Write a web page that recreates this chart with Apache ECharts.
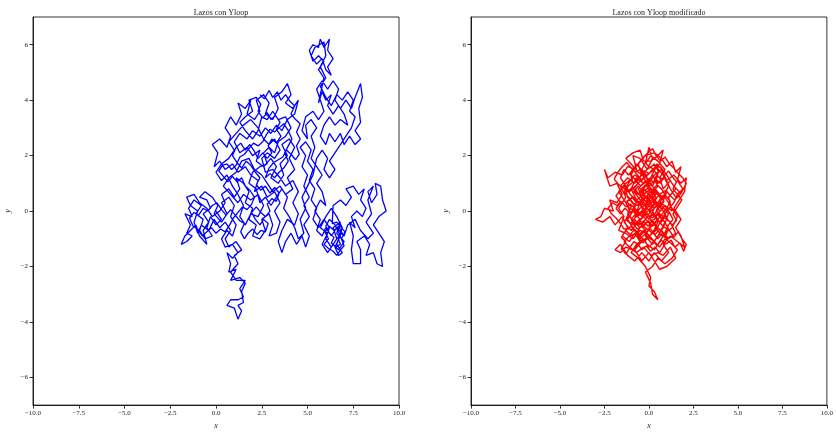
<!DOCTYPE html>
<html>
<head>
<meta charset="utf-8">
<script src="https://cdn.jsdelivr.net/npm/echarts@6/dist/echarts.min.js"></script>
<style>html,body{margin:0;padding:0;background:#fff;}#c{width:836px;height:435px;}</style>
</head>
<body>
<div id="c"></div>
<script>
const titles = ['Lazos con Yloop', 'Lazos con Yloop modificado'];
const xTicks = [-10, -7.5, -5, -2.5, 0, 2.5, 5, 7.5, 10];
const yTicks = [-6, -4, -2, 0, 2, 4, 6];

const blueWalk = [
[0,0],[0.3,-0.3],[0.0,-0.5],[-0.3,-0.2],[-0.5,-0.6],[-0.2,-0.9],[-0.6,-1.0],[-0.9,-0.7],[-0.7,-0.3],[-1.1,-0.1],[-0.8,0.2],[-1.2,0.4],[-1.5,0.1],[-1.3,-0.2],[-1.7,-0.1],[-1.4,-0.5],[-1.6,-0.8],[-1.3,-0.9],[-1.6,-1.1],[-1.9,-1.2],[-1.7,-0.9],[-1.4,-0.7],[-1.1,-0.5],[-0.9,-0.9],[-0.5,-1.2],[-0.7,-0.7],[-0.4,-0.4],[-0.7,-0.1],[-0.3,0.1],[-0.5,0.4],[-0.9,0.5],[-0.6,0.7],[-0.2,0.5],[0.1,0.2],[-0.1,-0.1],[0.3,-0.4],[0.6,-0.1],[0.3,0.3],[0.7,0.5],[1.0,0.2],[0.8,-0.2],[1.1,-0.5],[0.9,-0.9],[0.6,-0.7],[0.3,-1.0],[0.5,-1.3],[0.9,-1.2],[1.2,-1.5],[0.9,-1.7],[0.6,-1.5],[0.8,-1.9],
[0.7,-2.2],[1.1,-2.1],[0.8,-2.5],[1.3,-2.4],[1.6,-2.6],[1.4,-2.9],[1.5,-3.3],[1.2,-3.4],[1.4,-3.6],[1.2,-3.9],[1.0,-3.5],[0.6,-3.4],[0.8,-3.2],[1.2,-3.2],[1.5,-3.1],[1.3,-2.8],[1.6,-2.5],[1.1,-2.5],[0.8,-2.2],[1.2,-1.9],[1.0,-1.6],[1.4,-1.4],[1.1,-1.1],[0.7,-1.3],[0.5,-1.0],[0.8,-0.7],[0.5,-0.4],
[0.2,-0.6],[-0.1,-0.3],[-0.4,-0.7],[-0.8,-0.5],[-1.0,-0.8],[-1.2,-0.4],[-1.0,0.0],[-1.4,0.2],[-1.6,0.5],[-1.2,0.6],[-0.9,0.3],[-0.5,0.1],[-0.2,-0.2],[0.2,0.0],[0.5,0.3],[0.3,0.6],[0.7,0.8],[1.0,0.5],[1.3,0.8],[1.1,1.2],
[1.5,1.0],[1.8,0.7],[1.6,0.3],[2.0,0.1],[1.8,-0.3],[2.2,-0.5],[2.0,-0.9],[2.4,-1.0],[2.7,-0.7],[2.5,-0.3],[2.9,-0.1],[3.1,-0.5],[2.9,-0.9],[3.3,-0.8],[3.5,-0.4],[3.2,0.0],[3.5,0.3],[3.2,0.7],[2.8,0.5],[2.5,0.9],[2.1,0.7],[2.3,1.1],[1.9,1.3],[1.6,1.6],[1.2,1.4],[0.9,1.7],[0.5,1.5],[0.2,1.8],[-0.1,1.6],[0.1,2.1],[-0.2,2.4],[0.2,2.6],[0.6,2.3],[0.8,2.7],[0.5,3.0],[0.8,3.4],[1.1,3.1],[1.4,3.5],[1.2,3.9],[1.6,3.7],[1.9,4.0],[1.7,3.5],[2.1,3.3],[2.4,3.6],[2.2,4.0],[2.6,4.2],[2.9,3.9],[2.7,3.5],[3.1,3.3],[3.4,3.7],[3.2,4.1],[3.6,4.3],[3.9,4.6],[4.1,4.2],[3.8,3.9],[4.2,3.7],[4.5,4.0],[4.3,3.5],[3.9,3.3],[3.6,2.9],[3.3,3.1],[3.0,2.8],[2.7,3.0],[2.4,2.7],[2.0,2.9],[1.7,2.6],[1.3,2.8],[1.0,2.5],[1.3,2.1],[1.7,2.3],[2.0,2.0],[2.4,2.2],[2.2,1.8],[2.6,1.6],[3.0,1.9],[3.3,1.6],[3.0,1.2],[3.4,1.0],[3.7,1.3],[3.5,1.7],[3.9,2.0],[3.6,2.4],[4.0,2.6],[4.3,2.3],[4.0,1.9],[4.3,1.5],[3.9,1.2],[4.2,0.8],[3.8,0.6],[3.5,0.9],[3.1,0.7],[2.8,1.0],[2.5,1.3],[2.1,1.5],[1.8,1.9],[1.4,1.8],[1.1,1.4],[0.7,1.2],[0.4,0.9],[0.8,0.6],[1.2,0.3],[1.5,0.6],[1.9,0.4],[2.3,0.6],[2.6,0.2],[2.3,-0.2],[1.9,-0.1],[1.6,-0.5],[1.3,-0.2],[1.5,0.2],[1.2,0.6],[0.9,0.9],[0.6,1.3],[0.3,1.1],[0.0,1.4],[0.3,1.7],[0.7,1.9],[1.0,2.2],[0.7,2.5],[1.1,2.8],[1.5,3.1],[1.9,3.3],[2.3,3.0],[2.6,2.6],[2.9,2.4],[3.2,2.6],[3.5,2.2],[3.2,1.9],[2.8,2.1],[2.5,1.9],[2.7,1.4],[3.1,1.5],
[3.5,1.2],[3.8,0.9],[4.2,1.1],[4.5,0.7],[4.2,0.3],[4.5,-0.1],[4.3,-0.5],[3.9,-0.3],[3.6,-0.7],[3.4,-1.1],[3.6,-1.5],[3.8,-1.1],[4.1,-0.8],[4.4,-1.2],[4.7,-0.9],[4.9,-1.3],[5.1,-0.9],[4.8,-0.5],[5.1,-0.2],[4.8,0.2],[5.1,0.5],[4.8,0.9],[5.0,1.3],[4.7,1.6],[4.9,2.0],[4.6,2.3],[4.9,2.5],[5.2,2.2],[5.0,1.8],[5.3,1.5],[5.1,1.1],[5.4,0.8],[5.2,0.4],[5.5,0.1],[5.3,-0.3],[5.6,-0.6],
[5.9,-0.3],[6.2,-0.6],[6.0,-1.0],[6.3,-1.3],[6.6,-1.0],[6.4,-0.6],[6.8,-0.4],[6.6,-0.8],[7.0,-1.1],[6.7,-1.4],[6.4,-1.2],[6.1,-1.5],[5.8,-1.2],[6.1,-0.8],[5.7,-0.6],[6.0,-0.2],[6.3,0.1],[6.6,-0.2],[6.9,-0.6],[6.6,-1.2],[6.9,-1.5],[6.7,-1.6],[6.5,-1.3],[6.8,-0.9],[6.5,-0.5],[6.2,-0.3],
[6.0,-0.55],[6.2,-0.8],[6.45,-0.95],[6.3,-1.15],[6.55,-1.3],[6.8,-1.2],[6.65,-0.95],[6.9,-0.8],[6.7,-0.55],[6.45,-0.7],[6.2,-0.55],[5.95,-0.75],[6.15,-1.0],[5.9,-1.2],[6.15,-1.35],[6.4,-1.45],[6.6,-1.6],[6.8,-1.4],[7.0,-1.25],[6.85,-1.0],[7.05,-0.75],[6.85,-0.6],[6.6,-0.4],[6.35,-0.45],
[6.4,0.2],[6.8,0.4],[7.1,0.2],[7.4,0.5],[7.1,0.8],[7.5,0.9],[7.8,0.6],[8.1,0.8],[7.9,0.4],[8.2,0.1],[8.0,-0.2],[7.7,0.0],[7.4,-0.2],[7.6,-0.6],[7.3,-0.4],[7.5,-0.9],[7.4,-1.4],[7.5,-1.9],[7.9,-1.9],[7.9,-1.4],[7.7,-1.1],[8.1,-0.9],[8.4,-1.2],[8.2,-1.6],[8.6,-1.5],[8.8,-1.9],[9.1,-2.0],[9.0,-1.5],[9.2,-1.1],[8.9,-0.8],[8.6,-0.5],[8.9,-0.2],[9.3,0.0],[9.1,0.4],[9.0,0.9],[8.7,1.0],[8.8,0.6],[8.5,0.3],[8.3,0.7],[8.6,0.9],[8.3,0.4],[8.5,-0.1],[8.2,-0.4],[8.6,-0.8],[8.3,-1.0],
[7.9,-0.7],[7.6,-0.3],[7.2,-0.5],[7.0,-0.9],[6.6,-0.6],[6.3,-0.9],[6.0,-0.6],[5.8,-0.9],[5.5,-0.7],[5.7,-0.3],[5.4,0.0],[5.7,0.4],[6.0,0.2],[5.8,0.7],[5.5,1.0],[5.8,1.3],[5.5,1.6],[5.2,1.9],[5.4,2.3],
[5.2,2.7],[5.5,3.0],[5.2,3.3],[4.9,3.1],[5.0,2.6],[4.7,2.9],[4.9,3.4],[5.3,3.6],[5.6,3.3],[5.9,3.6],[5.7,4.0],[5.5,4.4],[5.8,4.7],[6.1,4.4],[6.4,4.7],[6.7,4.4],[6.5,4.0],[6.8,3.7],[7.1,4.0],[7.4,3.7],[7.6,4.1],[7.9,4.6],[8.0,4.1],[7.8,3.7],[7.9,3.2],[7.6,2.9],[7.9,2.6],[7.6,2.4],[7.3,2.7],[7.0,2.4],[6.8,2.8],[6.5,2.5],[6.2,2.8],[6.0,2.4],[5.7,2.7],[5.9,3.1],[6.2,3.4],[6.5,3.1],[6.8,3.3],[7.2,3.1],[7.0,3.5],[6.7,3.8],[6.4,3.5],[6.1,3.8],[6.3,4.2],[6.0,4.0],[5.8,4.3],[5.6,3.9],
[5.9,4.8],[5.6,5.1],[5.9,5.4],[5.6,5.6],[5.3,5.4],[5.1,5.8],[5.3,6.0],[5.6,5.9],[5.7,6.2],[5.9,5.9],[6.2,6.2],[6.1,5.8],[6.4,5.5],[6.1,5.2],[6.3,4.9],[6.0,5.1],[5.8,5.5],[5.5,5.3],[5.2,5.6],[5.4,5.9],[5.9,6.1],[6.0,5.6],[5.7,5.2],[6.0,4.8],[5.7,4.5],
[6.0,4.1],[6.3,3.8],[6.6,4.2],[6.9,4.0],[7.2,4.3],[7.5,4.0],[7.3,3.6],[7.6,3.4],[7.4,3.0],[7.1,2.7],[6.8,2.4],[6.5,2.1],[6.2,1.8],[6.5,1.5],[6.2,1.2],[5.9,1.5],[6.1,1.9],[5.8,2.2],[5.5,1.9],[5.3,1.3],[5.0,0.9],[4.7,0.5],[4.9,0.1],[4.6,-0.3],[4.8,-0.8],[4.5,-1.0],[4.3,-0.6],
[4.0,-0.2],[3.7,0.1],[3.9,0.5],[3.6,0.8],[3.3,0.5],[3.0,0.2],[2.7,0.5],[2.4,0.3],[2.2,0.8],[1.8,1.0],[2.0,1.4],[2.4,1.6],[2.8,1.7],[2.6,2.1],[2.9,2.3],[3.2,2.1],[3.4,2.5],[3.8,2.7],[4.1,3.0],[3.8,3.4],[3.4,3.3],[3.1,3.6],[2.8,3.3],[2.5,3.4],[2.3,2.9],[2.0,2.6],[1.6,2.9],[1.3,3.2],[1.6,3.4],[2.0,3.6],[1.8,4.0],[2.2,4.1],
[2.45,3.85],[2.3,3.6],[2.55,3.35],[2.8,3.55],[3.0,3.3],[3.25,3.45],[3.5,3.2],[3.3,2.95],[3.55,2.7],[3.3,2.45],[3.05,2.6],[2.85,2.35],[3.05,2.1],[2.8,1.9],[2.55,2.1],[2.3,1.9],[2.1,2.15],[1.85,2.4],[1.6,2.2],[1.35,2.45],[1.1,2.3],[0.9,2.0],[1.15,1.75],[1.4,1.55],[1.65,1.8],[1.9,1.65],[2.15,1.4],[2.4,1.2],[2.2,0.95],[2.45,0.75],[2.7,0.9],[2.95,0.65],[3.2,0.85],[3.45,0.65],[3.3,0.35],[3.05,0.45],[2.8,0.25],[2.95,0.0],[2.7,-0.2],[2.45,-0.05],[2.2,0.15],[1.95,-0.05],[2.15,-0.3],[2.4,-0.5],[2.6,-0.3],[2.85,-0.45],[2.7,-0.75],[2.45,-0.7],[2.25,-0.85],[2.0,-0.65],[1.75,-0.8],[1.55,-1.0],[1.35,-0.75],[1.55,-0.45],[1.3,-0.35],[1.05,-0.15],[0.8,0.05],[0.55,-0.15],[0.3,0.05],[0.05,0.3],[-0.2,0.2],[-0.45,0.0],[-0.7,0.1],[-0.95,-0.15],[-1.2,-0.05],[-1.45,-0.25],[-1.25,-0.55],[-1.0,-0.65],[-0.75,-0.9],[-0.5,-0.75],[-0.25,-0.6],[0.0,-0.8],[0.25,-0.65],[0.5,-0.75],[0.75,-0.5],[0.95,-0.25],[1.2,-0.05],[1.45,0.15],[1.7,0.05],[1.95,0.25],[2.1,0.5],[1.85,0.75],[1.6,0.9],[1.4,1.2],[1.15,1.05],[0.9,1.25],[0.65,1.05],[0.4,1.25],[0.15,1.45],[0.35,1.65],[0.6,1.7],[0.85,1.5],[1.1,1.65],[1.3,1.95],[1.55,2.05],[1.8,2.25],[2.05,2.45],[2.3,2.35],[2.55,2.5],[2.75,2.75],[2.95,2.95],[3.2,2.85],[3.45,3.0],[3.7,3.15],[3.95,2.9],[4.15,2.6],[3.95,2.35],[3.75,2.1],[3.95,1.8],[3.7,1.55],[3.45,1.4],[3.2,1.2],[2.95,1.35],[2.7,1.2],[2.9,1.55],[3.15,1.75],[3.4,1.85],[3.65,1.95],[3.85,2.2],[4.1,2.05],[4.35,1.85],[4.55,2.05],[4.4,2.35],[4.6,2.6],[4.4,2.85],[4.6,3.15],[4.35,3.3],[4.1,3.5],[4.3,3.8],[4.05,3.95],[3.8,4.2],[3.55,4.0],[3.35,4.3],[3.1,4.1],[2.9,4.35],[2.65,4.05],[2.4,4.2]
];

const redWalk = [
[0,0],[0.4,0.3],[0.1,0.7],[-0.3,0.4],[-0.6,0.8],[-0.2,1.1],[0.2,0.9],[0.5,1.3],[0.1,1.6],[-0.3,1.4],[-0.7,1.7],[-1.0,1.3],[-0.6,1.0],[-1.1,0.7],[-1.4,1.0],[-1.2,0.5],[-0.8,0.2],[-1.1,-0.2],[-0.7,-0.5],[-0.3,-0.2],[0.1,-0.5],[-0.2,-0.9],[0.2,-1.2],[0.6,-0.8],[0.9,-0.4],[0.5,-0.1],[0.9,0.2],[1.3,0.0],[1.1,0.5],[1.5,0.8],[1.2,1.1],[0.8,0.8],[0.6,1.2],[0.9,1.5],[0.5,1.8],[0.1,2.0],[-0.2,1.7],[0.0,2.3],[0.2,1.9],[-0.1,1.5],[-0.5,1.9],[-0.9,2.0],[-0.7,1.5],[-1.2,1.6],[-1.5,1.3],[-1.9,1.4],[-2.3,1.2],[-2.5,1.5],[-2.2,0.9],[-1.8,1.0],[-1.5,0.6],[-1.8,0.3],[-2.2,0.4],[-2.0,0.0],[-2.5,0.1],[-2.7,-0.2],[-3.0,-0.3],[-2.6,-0.4],[-2.2,-0.2],[-1.9,-0.5],[-1.5,-0.2],[-1.2,-0.6],[-1.5,-0.9],[-1.1,-1.1],[-0.8,-0.8],[-0.5,-1.1],[-0.9,-1.4],[-1.3,-1.3],[-1.6,-1.5],[-1.9,-1.4],[-1.6,-1.2],[-1.2,-1.6],[-0.8,-1.8],[-0.4,-1.5],[0.0,-1.8],[0.3,-1.5],[0.7,-1.8],[1.1,-1.5],[0.8,-1.2],[1.2,-0.9],[1.6,-1.1],[2.0,-1.3],[1.8,-0.9],[1.5,-0.6],[1.8,-0.3],[1.4,0.1],[1.7,0.4],[2.0,0.7],[2.1,1.2],[1.8,1.0],[1.4,1.3],[1.0,1.1],[0.7,1.5],[0.3,1.3],[0.0,1.0],[-0.4,0.8],[-0.1,0.4],[0.3,0.1],[0.0,-0.3],[-0.4,0.0],[-0.8,-0.2],[-0.5,0.3],[-0.9,0.5],[-1.3,0.3],[-1.0,-0.1],[-1.4,-0.4],[-1.0,-0.7],[-0.6,-0.4],[-0.2,-0.6],[0.2,-0.8],[0.5,-0.4],[0.2,0.0],[0.6,0.4],[1.0,0.7],[0.7,0.2],[1.1,-0.1],[0.8,-0.6],[0.4,-1.0],[0.0,-1.3],[-0.3,-1.0],[-0.7,-1.2],[-1.0,-1.5],[-0.6,-1.7],[-0.2,-2.0],[0.1,-2.4],[0.0,-2.7],[0.3,-2.9],[0.5,-3.2],[0.2,-3.0],[0.1,-2.6],[-0.2,-2.2],[0.2,-2.0],[0.5,-1.7],[0.9,-1.9],[1.3,-1.7],[1.6,-1.4],[1.3,-1.2],[0.9,-1.0],[0.6,-1.3],[0.3,-1.1],[-0.1,-0.8],[-0.5,-0.7],[-0.9,-1.0],[-1.3,-0.8],[-1.7,-0.7],[-1.4,-0.2],[-1.7,0.1],[-1.3,0.5],[-1.6,0.9],[-1.2,1.2],[-0.8,1.0],[-0.4,1.3],[-0.6,1.7],[-0.2,2.0],[0.3,2.1],[0.7,1.9],[1.0,1.6],[1.3,1.8],[1.5,1.4],[1.8,1.6],[1.6,1.1],[1.9,0.8],[1.5,0.5],[1.2,0.8],[0.9,1.2],[0.5,1.0],[0.2,1.3],[-0.2,0.9],[-0.5,0.6],[-0.2,0.2],[0.1,0.5],[0.4,0.7],[0.7,0.4],[0.4,0.0],[0.8,-0.2],[1.2,-0.4],[1.5,-0.8],[1.1,-1.0],[0.7,-0.7],[0.3,-0.5],[-0.1,-0.1],[-0.5,-0.3],[-0.9,0.0],[-1.2,-0.3],[-0.9,-0.6],[-0.5,-0.9],[-0.1,-1.2],[0.3,-1.4],[0.6,-1.1],[0.9,-0.8],[1.3,-0.6],[1.6,-0.2],[1.2,0.2],[0.9,0.5],[0.5,0.6],[0.1,0.8],[-0.3,0.6],[-0.7,0.4],[-1.0,0.8],[-0.7,1.2],[-0.3,1.0],[0.1,1.2],[0.4,1.6],[0.8,1.3],[1.1,0.9],[0.8,0.5],[0.5,0.2],[0.1,0.0],[-0.3,-0.4],[-0.7,-0.8],[-1.1,-0.9],[-1.4,-1.1],[-1.1,-1.3],[-0.7,-1.5],[-0.3,-1.3],[0.1,-1.6],[0.5,-1.5],[0.8,-1.6],[1.2,-1.3],[1.5,-1.7],[1.0,-2.0],[0.6,-2.1],[0.3,-1.8],[0.0,-1.5],[-0.4,-1.8],[-0.8,-1.4],[-0.4,-1.1],[0.0,-0.9],[0.4,-0.7],[0.7,-0.3],[1.0,0.0],[1.4,0.3],[1.7,0.7],[1.4,0.9],[1.0,1.3],[0.6,1.6],[0.2,1.5],[-0.2,1.2],[-0.6,1.4],[-1.0,1.7],[-1.3,1.9],[-0.9,2.1],[-0.5,2.2],[-0.3,1.8],[0.1,1.8],[0.5,2.0],[0.8,2.2],[0.6,1.7],[0.3,1.5],[-0.1,1.3],[-0.5,1.1],[-0.9,1.2],[-1.3,1.0],[-1.7,0.7],[-1.4,0.4],[-1.1,0.1],[-0.7,0.0],[-0.4,-0.2],[0.0,0.2],[0.3,0.4],[0.6,0.0],[0.3,-0.3],[-0.1,-0.4],[-0.5,-0.6],[-0.8,-0.4],[-1.2,-0.1],
[-1.0,0.15],[-1.25,0.35],[-0.95,0.5],[-0.7,0.3],[-0.85,0.05],[-0.6,-0.15],[-0.35,0.05],[-0.5,0.3],[-0.25,0.5],[-0.45,0.75],[-0.2,0.95],[0.05,0.75],[-0.1,0.5],[0.15,0.3],[0.4,0.45],[0.25,0.7],[0.5,0.9],[0.3,1.15],[0.55,1.4],[0.3,1.7],[0.05,1.55],[-0.2,1.75],[-0.4,1.5],[-0.15,1.3],[-0.4,1.1],[-0.65,1.3],[-0.9,1.5],[-1.15,1.3],[-1.4,1.5],[-1.6,1.2],[-1.35,0.95],[-1.6,0.75],[-1.85,0.55],[-1.6,0.3],[-1.85,0.1],[-1.6,-0.1],[-1.35,0.1],[-1.1,-0.05],[-1.3,-0.3],[-1.05,-0.45],[-0.8,-0.3],[-0.55,-0.5],[-0.3,-0.35],[-0.05,-0.55],[0.2,-0.35],[0.45,-0.55],[0.25,-0.8],[0.5,-1.0],[0.75,-0.8],[1.0,-1.0],[0.85,-1.25],[0.6,-1.5],[0.35,-1.3],[0.1,-1.45],[-0.15,-1.25],[-0.4,-1.4],[-0.6,-1.2],[-0.85,-1.1],[-1.05,-1.3],[-1.3,-1.55],[-1.55,-1.35],[-1.3,-1.1],[-1.55,-0.95],[-1.3,-0.7],[-1.05,-0.85],[-0.8,-0.65],[-0.55,-0.85],[-0.3,-0.7],[-0.05,-0.95],[0.2,-1.05],[0.45,-1.25],[0.7,-1.05],[0.95,-1.2],[1.25,-1.05],[1.45,-1.3],[1.75,-1.15],[1.95,-1.45],[2.1,-1.2],[1.85,-1.0],[1.65,-0.75],[1.4,-0.95],[1.15,-0.7],[0.9,-0.6],[0.65,-0.45],[0.4,-0.2],[0.15,-0.1],[-0.1,0.1],[-0.35,0.25],[-0.6,0.5],[-0.85,0.7],[-0.6,0.9],[-0.35,0.7],[-0.1,0.8],[0.15,1.0],[0.4,1.15],[0.65,1.0],[0.85,1.25],[1.1,1.45],[1.3,1.25],[1.55,1.05],[1.35,0.8],[1.6,0.6],[1.85,0.4],[1.6,0.15],[1.35,-0.1],[1.55,-0.35],[1.3,-0.5],[1.05,-0.3],[0.85,-0.05],[0.6,0.15],[0.85,0.35],[0.6,0.6],[0.35,0.8],[0.1,0.6],[-0.15,0.35],[-0.4,0.45],[-0.65,0.2],[-0.9,0.3],[-1.15,0.5],[-1.4,0.7],[-1.15,0.9],[-0.9,1.05],[-1.05,1.35],[-0.8,1.55],[-0.55,1.75],[-0.3,1.95],[-0.05,2.1],[0.2,2.25],[0.4,2.0],[0.65,1.8],[0.9,1.95],[1.15,1.7],[1.4,1.55],[1.65,1.35],[1.9,1.2],[2.1,1.0],[1.9,0.75],[1.7,0.55],[1.45,0.4],[1.2,0.55],[0.95,0.75],[0.7,0.65],[0.45,0.5],[0.2,0.2],[-0.05,0.0],[-0.3,-0.15],[-0.55,-0.05],[-0.8,0.1],[-1.05,0.25],[-1.3,0.15],[-1.55,0.35],[-1.8,0.2],[-2.05,0.3],[-2.3,0.1],[-2.1,-0.1],[-1.85,-0.25],[-1.6,-0.45],[-1.4,-0.65],[-1.15,-0.65],[-0.9,-0.45],[-0.65,-0.65],[-0.4,-0.55],[-0.15,-0.75],[0.1,-0.65],[0.35,-0.85],[0.6,-0.65],[0.85,-0.85],[1.1,-0.5],[1.35,-0.3],[1.15,-0.05],[0.95,0.15],[0.7,0.3],[0.5,0.05],[0.25,-0.15],[0.0,-0.2],[-0.2,0.0],[-0.45,0.15],[-0.3,0.4],[-0.05,0.6],[0.2,0.5],[0.45,0.3],[0.7,0.1],[0.95,-0.15],[0.7,-0.4],[0.45,-0.35],[0.2,-0.55],[-0.05,-0.35],[-0.3,-0.55],[-0.55,-0.3],[-0.8,-0.5],[-1.0,-0.3],[-0.75,-0.1],[-0.5,0.1],[-0.25,0.2],[0.0,0.4],[0.25,0.6],[0.05,0.85],[-0.2,1.05],[-0.45,0.9],[-0.7,1.05],[-0.5,1.25],[-0.25,1.45],[0.0,1.35],[0.25,1.5],[0.45,1.7],[0.7,1.55],[0.95,1.35],[0.75,1.15],[0.5,1.25],[0.25,1.05],[0.0,1.15],[-0.25,1.25],[-0.5,1.5],[-0.75,1.4],[-1.0,1.55],[-1.25,1.75],[-1.5,1.6],[-1.75,1.4],[-1.95,1.15],[-1.7,0.95],[-1.45,0.85],[-1.2,0.7],[-0.95,0.85],[-0.7,0.65],[-0.45,0.55],
[-0.2,0.35],[0.05,0.15],[0.3,0.25],[0.15,0.5],[-0.1,0.65],[-0.35,0.85],[-0.6,0.6],[-0.8,0.85],[-0.55,1.05],[-0.3,1.2],[-0.05,0.95],[0.2,0.75],[0.45,0.95],[0.7,0.8],[0.95,0.55],[1.2,0.35],[1.0,0.1],[0.75,-0.1],[0.5,-0.3],[0.25,-0.45],[0.0,-0.65],[-0.25,-0.85],[-0.5,-1.0],[-0.75,-0.75],[-1.0,-0.55],[-0.8,-0.25],[-0.55,-0.15],[-0.3,0.0],[-0.05,0.25],[0.2,0.45],[0.45,0.65],[0.2,0.9],[-0.05,1.1],[-0.3,1.35],[-0.55,1.2],[-0.8,1.3],[-1.05,1.1],[-1.3,0.85],[-1.05,0.6],[-0.8,0.45],[-0.55,0.25],[-0.3,0.1],[-0.05,-0.15],[0.2,-0.25],[0.45,-0.1],[0.65,-0.25],[0.9,-0.4],[1.1,-0.65],[0.9,-0.95],[0.65,-0.85],[0.4,-0.6],[0.15,-0.8],[-0.1,-1.0],[-0.35,-1.15],[-0.6,-0.95],[-0.35,-0.8],[-0.1,-0.6]
];

const FONT = 'Liberation Serif';
const minus = s => String(s).replace('-', '\u2212');

function makeX(i) {
  return {
    type: 'value', gridIndex: i, min: -10, max: 10, interval: 2.5,
    name: 'x', nameLocation: 'middle', nameGap: 15,
    nameTextStyle: { fontFamily: FONT, fontStyle: 'italic', fontSize: 8, color: '#222' },
    axisLine: { show: true, onZero: false, lineStyle: { color: '#000', width: 0.8 } },
    axisTick: { show: true, inside: false, length: 3.5, lineStyle: { color: '#000', width: 0.8 } },
    axisLabel: { show: true, margin: 5, fontFamily: FONT, fontSize: 7, color: '#222',
      formatter: v => minus(v.toFixed(1)), showMinLabel: true, showMaxLabel: true },
    splitLine: { show: false }
  };
}
function makeY(i) {
  return {
    type: 'value', gridIndex: i, min: -7, max: 7,
    name: 'y', nameLocation: 'middle', nameGap: 21,
    nameTextStyle: { fontFamily: FONT, fontStyle: 'italic', fontSize: 8, color: '#222' },
    axisLine: { show: true, onZero: false, lineStyle: { color: '#000', width: 0.8 } },
    axisTick: { show: true, inside: false, length: 3.5, customValues: yTicks, lineStyle: { color: '#000', width: 0.8 } },
    axisLabel: { show: true, margin: 5, fontFamily: FONT, fontSize: 7, color: '#222',
      customValues: yTicks, formatter: v => minus(v) },
    splitLine: { show: false }
  };
}

const chart = echarts.init(document.getElementById('c'), null, { renderer: 'canvas' });
chart.setOption({
  animation: false,
  backgroundColor: '#fff',
  title: [
    { text: titles[0], left: 216, top: 4, textAlign: 'center',
      textStyle: { fontFamily: FONT, fontSize: 8, fontWeight: 'normal', color: '#222' } },
    { text: titles[1], left: 654, top: 4, textAlign: 'center',
      textStyle: { fontFamily: FONT, fontSize: 8, fontWeight: 'normal', color: '#222' } }
  ],
  grid: [
    { left: 33, top: 17, width: 366, height: 394, show: true, borderColor: '#000', borderWidth: 0.8, backgroundColor: 'transparent' },
    { left: 471, top: 17, width: 366, height: 394, show: true, borderColor: '#000', borderWidth: 0.8, backgroundColor: 'transparent' }
  ],
  xAxis: [makeX(0), makeX(1)],
  yAxis: [makeY(0), makeY(1)],
  series: [
    { type: 'line', xAxisIndex: 0, yAxisIndex: 0, data: blueWalk, showSymbol: false, smooth: false,
      lineStyle: { color: '#0000ff', width: 1.3 }, clip: true },
    { type: 'line', xAxisIndex: 1, yAxisIndex: 1, data: redWalk, showSymbol: false, smooth: false,
      lineStyle: { color: '#ff0000', width: 1.4 }, clip: true }
  ]
});
</script>
</body>
</html>
